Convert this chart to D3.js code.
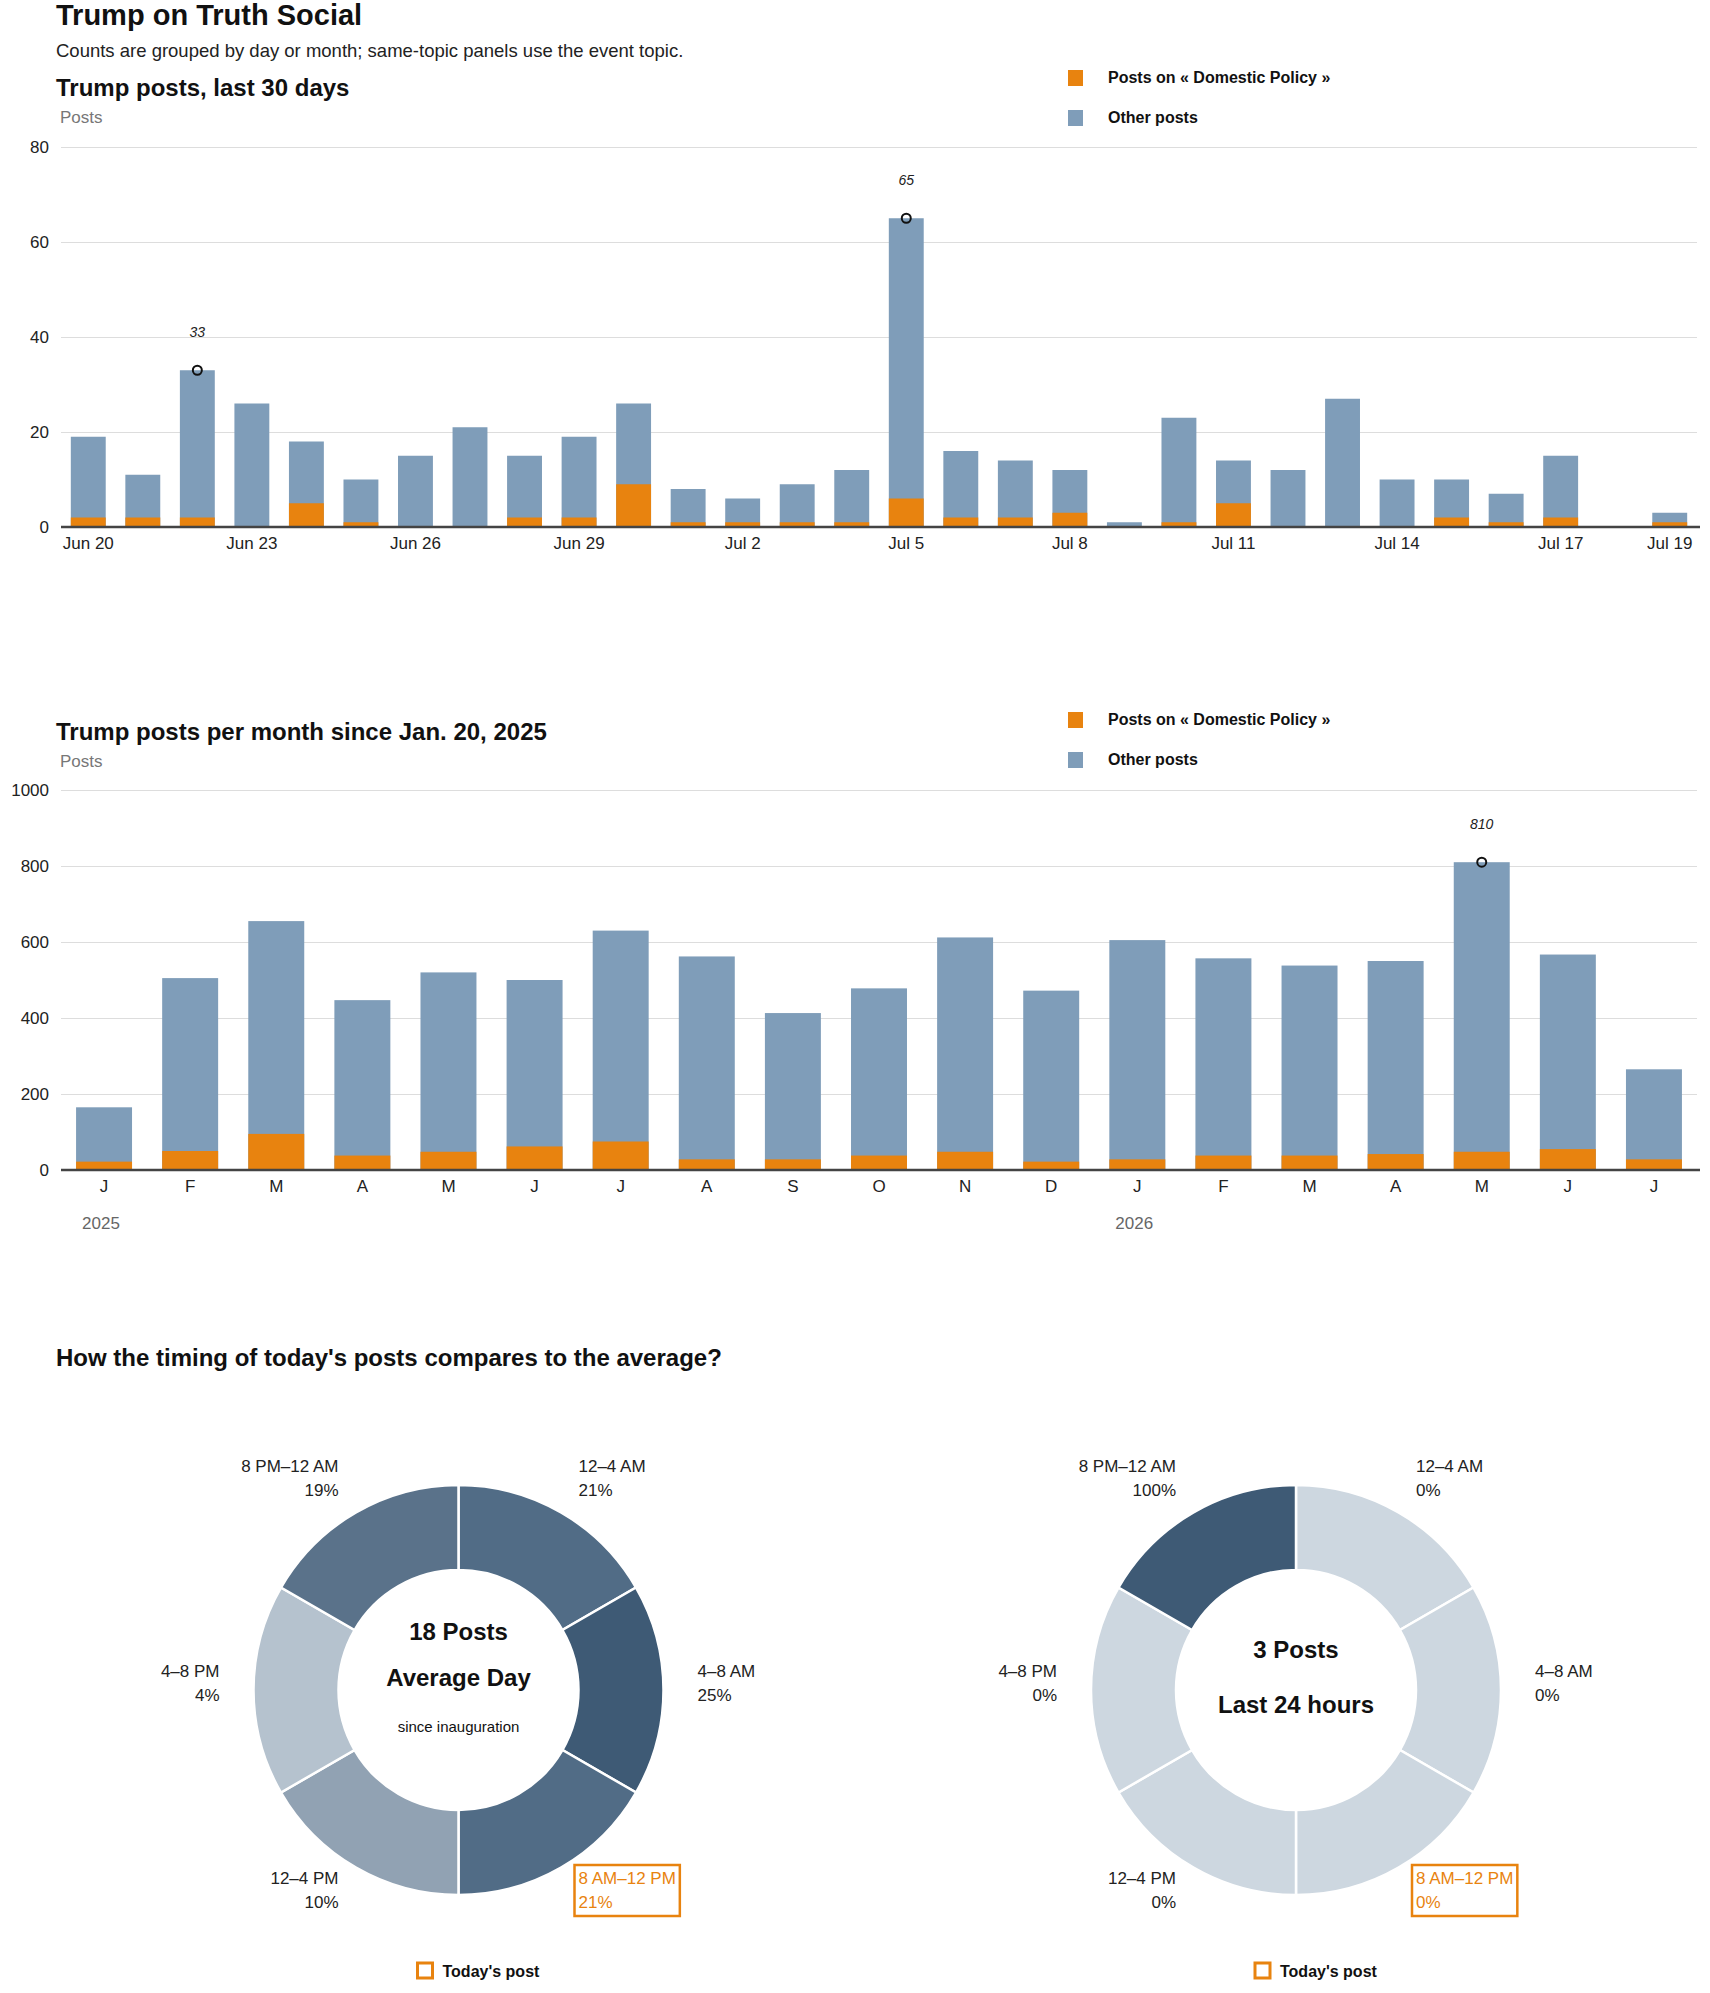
<!DOCTYPE html>
<html><head><meta charset="utf-8">
<script src="https://cdn.jsdelivr.net/npm/d3@7"></script>
<style>body{margin:0;background:#fff}text{font-family:"Liberation Sans",Arial,sans-serif}</style>
</head><body><svg id="c" width="1710" height="1993"></svg>
<script>
const days=["Jun 20","Jun 21","Jun 22","Jun 23","Jun 24","Jun 25","Jun 26","Jun 27","Jun 28","Jun 29","Jun 30","Jul 1","Jul 2","Jul 3","Jul 4","Jul 5","Jul 6","Jul 7","Jul 8","Jul 9","Jul 10","Jul 11","Jul 12","Jul 13","Jul 14","Jul 15","Jul 16","Jul 17","Jul 18","Jul 19"];
const dayTotal=[19,11,33,26,18,10,15,21,15,19,26,8,6,9,12,65,16,14,12,1,23,14,12,27,10,10,7,15,0,3];
const dayTopic=[2,2,2,0,5,1,0,0,2,2,9,1,1,1,1,6,2,2,3,0,1,5,0,0,0,2,1,2,0,1];
const dayTicks=["Jun 20","Jun 23","Jun 26","Jun 29","Jul 2","Jul 5","Jul 8","Jul 11","Jul 14","Jul 17","Jul 19"];
const months=["2025-01","2025-02","2025-03","2025-04","2025-05","2025-06","2025-07","2025-08","2025-09","2025-10","2025-11","2025-12","2026-01","2026-02","2026-03","2026-04","2026-05","2026-06","2026-07"];
const monthLabels=["J","F","M","A","M","J","J","A","S","O","N","D","J","F","M","A","M","J","J"];
const monthTotal=[165,505,655,447,520,500,630,562,413,478,612,472,605,557,538,550,810,567,265];
const monthTopic=[22,50,95,38,48,62,75,28,28,38,48,22,28,38,38,42,48,55,28];
const slots=["12–4 AM","4–8 AM","8 AM–12 PM","12–4 PM","4–8 PM","8 PM–12 AM"];
const avgShare=[21,25,21,10,4,19];
const todayShare=[0,0,0,0,0,100];
const ORANGE="#e8830f",BLUE="#7f9db9";
const svg=d3.select("#c");
svg.append("text").attr("x",56).attr("y",25).attr("font-size",29).attr("font-weight",900).attr("fill","#111").text("Trump on Truth Social");
svg.append("text").attr("x",56).attr("y",57).attr("font-size",18.5).attr("fill","#222").text("Counts are grouped by day or month; same-topic panels use the event topic.");

function barChart(o){
  const g=svg.append("g");
  g.append("text").attr("x",56).attr("y",o.titleY).attr("font-size",24).attr("font-weight",900).attr("fill","#111").text(o.title);
  g.append("text").attr("x",60).attr("y",o.titleY+27).attr("font-size",17).attr("fill","#777").text("Posts");
  [[ORANGE,"Posts on « Domestic Policy »"],[BLUE,"Other posts"]].forEach((d,i)=>{
    g.append("rect").attr("x",1068).attr("y",o.legY+i*40-8).attr("width",15).attr("height",16).attr("fill",d[0]);
    g.append("text").attr("x",1108).attr("y",o.legY+i*40+5).attr("font-size",16).attr("font-weight",700).attr("fill","#111").text(d[1]);
  });
  const x=d3.scaleBand().domain(o.cats).range([61,1697]).paddingInner(o.pad).paddingOuter(o.pad/2);
  const y=d3.scaleLinear().domain([0,o.max]).range([o.y0,o.y1]);
  g.append("g").attr("transform","translate(61,0)").call(d3.axisLeft(y).tickValues(o.yt).tickSize(-1636).tickFormat(d3.format("d")))
   .call(a=>{a.select(".domain").remove();a.selectAll("line").attr("stroke","#ddd");a.selectAll("text").attr("font-size",17).attr("fill","#222").attr("x",-12);});
  g.selectAll(".t").data(o.cats).join("rect").attr("x",d=>x(d)).attr("width",x.bandwidth())
   .attr("y",(d,i)=>y(o.total[i])).attr("height",(d,i)=>y(0)-y(o.total[i])).attr("fill",BLUE);
  g.selectAll(".o").data(o.cats).join("rect").attr("x",d=>x(d)).attr("width",x.bandwidth())
   .attr("y",(d,i)=>y(o.topic[i])).attr("height",(d,i)=>y(0)-y(o.topic[i])).attr("fill",ORANGE);
  g.append("line").attr("x1",61).attr("x2",1700).attr("y1",y(0)).attr("y2",y(0)).attr("stroke","#444").attr("stroke-width",2.5);
  const ax=g.append("g").attr("transform",`translate(0,${y(0)})`).call(d3.axisBottom(x).tickSize(0).tickValues(o.ticks).tickFormat(o.fmt||(d=>d)));
  ax.select(".domain").remove();ax.selectAll("text").attr("font-size",17).attr("fill","#222").attr("dy","1.1em");
  o.marks.forEach(i=>{
    const cx=x(o.cats[i])+x.bandwidth()/2,cy=y(o.total[i]);
    g.append("circle").attr("cx",cx).attr("cy",cy).attr("r",4.5).attr("fill","none").attr("stroke","#111").attr("stroke-width",2);
    g.append("text").attr("x",cx).attr("y",cy-33).attr("text-anchor","middle").attr("font-size",14).attr("font-style","italic").attr("font-family","Liberation Serif").attr("fill","#222").text(o.total[i]);
  });
  return {g,x,y};
}
barChart({title:"Trump posts, last 30 days",titleY:96,legY:78,cats:days,total:dayTotal,topic:dayTopic,max:80,yt:[0,20,40,60,80],y0:527,y1:147,pad:0.36,ticks:dayTicks,marks:[2,15]});
const c2=barChart({title:"Trump posts per month since Jan. 20, 2025",titleY:740,legY:720,cats:months,total:monthTotal,topic:monthTopic,max:1000,yt:[0,200,400,600,800,1000],y0:1170,y1:790,pad:0.35,ticks:months,fmt:(d,i)=>monthLabels[i],marks:[16]});
[["2025",months[0]],["2026",months[12]]].forEach(d=>c2.g.append("text").attr("x",c2.x(d[1])+6).attr("y",1229).attr("font-size",17).attr("fill","#666").text(d[0]));

svg.append("text").attr("x",56).attr("y",1366).attr("font-size",24).attr("font-weight",900).attr("fill","#111").text("How the timing of today's posts compares to the average?");
const color=d3.scaleLinear().domain([0,4,10,19,21,25,100]).range(["#cdd7e0","#b5c2ce","#91a2b3","#5a728a","#516c86","#3e5a75","#3e5a75"]);
const pie=d3.pie().value(1).sort(null);
const arc=d3.arc().innerRadius(120).outerRadius(205);
const labelPos=[[120,-218,"start"],[239,-13,"start"],[120,194,"start"],[-120,194,"end"],[-239,-13,"end"],[-120,-218,"end"]];
function donut(cx,share,lines){
  const g=svg.append("g").attr("transform",`translate(${cx},1690)`);
  g.selectAll("path").data(pie(slots)).join("path").attr("d",arc).attr("fill",(d,i)=>color(share[i])).attr("stroke","#fff").attr("stroke-width",2.5);
  slots.forEach((s,i)=>{
    const [dx,dy,an]=labelPos[i];const hl=i===2;
    const t=g.append("text").attr("x",dx).attr("y",dy).attr("text-anchor",an).attr("font-size",17).attr("fill",hl?ORANGE:"#222");
    t.append("tspan").attr("x",dx).text(s);
    t.append("tspan").attr("x",dx).attr("dy",24).text(share[i]+"%");
    if(hl){const b=t.node().getBBox();g.append("rect").attr("x",b.x-4).attr("y",b.y-4).attr("width",b.width+8).attr("height",b.height+8).attr("fill","none").attr("stroke",ORANGE).attr("stroke-width",2.5);}
  });
  lines.forEach(l=>g.append("text").attr("y",l[0]).attr("text-anchor","middle").attr("font-size",l[1]).attr("font-weight",l[2]).attr("fill","#111").text(l[3]));
  g.append("rect").attr("x",-41).attr("y",273).attr("width",15).attr("height",15).attr("fill","none").attr("stroke",ORANGE).attr("stroke-width",3);
  g.append("text").attr("x",-16).attr("y",287).attr("font-size",16).attr("font-weight",700).attr("fill","#111").text("Today's post");
}
donut(458.5,avgShare,[[-50,24,900,"18 Posts"],[-4,24,900,"Average Day"],[42,15,400,"since inauguration"]]);
donut(1296,todayShare,[[-32,24,900,"3 Posts"],[23,24,900,"Last 24 hours"]]);
</script></body></html>
